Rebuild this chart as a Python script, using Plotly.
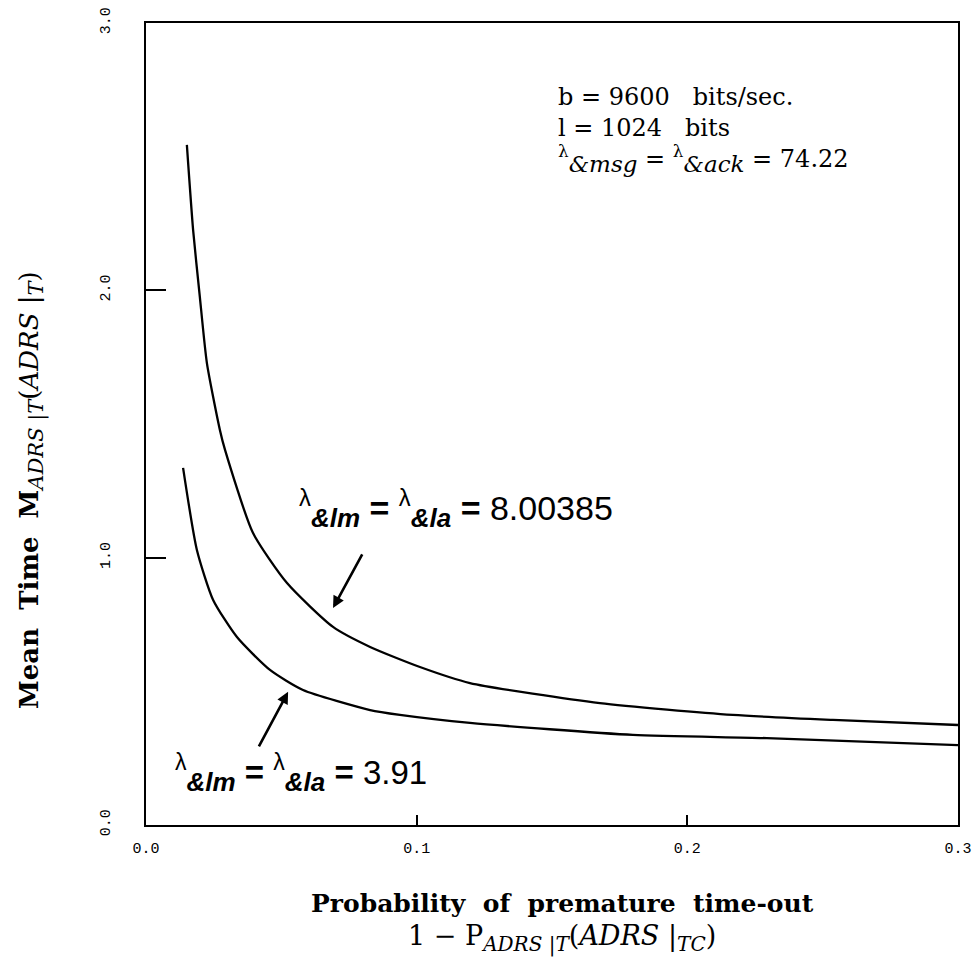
import plotly.graph_objects as go

# Data
x_upper = [0.0151, 0.0174, 0.0199, 0.0225, 0.0273, 0.0292, 0.0395, 0.0521, 0.0691, 0.0828, 0.1012, 0.1197, 0.1677, 0.2168, 0.2538, 0.3000]
y_upper = [2.544, 2.226, 1.975, 1.728, 1.478, 1.403, 1.093, 0.905, 0.741, 0.666, 0.591, 0.531, 0.456, 0.412, 0.393, 0.374]

x_lower = [0.0137, 0.0188, 0.0248, 0.0336, 0.0458, 0.0580, 0.0828, 0.0938, 0.1197, 0.1799, 0.2294, 0.3000]
y_lower = [1.336, 1.029, 0.842, 0.703, 0.580, 0.505, 0.430, 0.412, 0.382, 0.337, 0.325, 0.299]

x_ticks = [0.0, 0.1, 0.2, 0.3]
x_tick_labels = ["0.0", "0.1", "0.2", "0.3"]
y_ticks = [0.0, 1.0, 2.0, 3.0]
y_tick_labels = ["0.0", "1.0", "2.0", "3.0"]

line_style = dict(color="black", width=2.3, shape="spline", smoothing=0.6)

fig = go.Figure()
fig.add_trace(go.Scatter(x=x_upper, y=y_upper, mode="lines", line=line_style, showlegend=False, hoverinfo="skip"))
fig.add_trace(go.Scatter(x=x_lower, y=y_lower, mode="lines", line=line_style, showlegend=False, hoverinfo="skip"))

mono = dict(family="Liberation Mono, DejaVu Sans Mono, monospace", size=15, color="black")
serif = "DejaVu Serif, Liberation Serif, serif"
sans = "Liberation Sans, Arial, sans-serif"
NB = "&nbsp;"

fig.update_layout(
    width=972, height=966,
    margin=dict(l=146, r=14, t=23, b=141),
    paper_bgcolor="white", plot_bgcolor="white",
    xaxis=dict(range=[0, 0.3], tickvals=x_ticks, ticktext=x_tick_labels,
               ticks="inside", ticklen=10, tickwidth=1.5, tickcolor="black",
               showline=True, linecolor="black", linewidth=2, mirror=True,
               showgrid=False, zeroline=False, tickfont=mono, ticklabelstandoff=8,
               automargin=False),
    yaxis=dict(range=[0, 3], tickvals=y_ticks, ticktext=y_tick_labels,
               ticks="inside", ticklen=20, tickwidth=1.5, tickcolor="black",
               showline=True, linecolor="black", linewidth=2, mirror=True,
               showgrid=False, zeroline=False, tickfont=mono, tickangle=-90,
               ticklabelstandoff=28, automargin=False),
)


def px(xp):
    return (xp - 146) / 812


def py(yp):
    return (825 - yp) / 802


def sub(t, size, bold=False):
    inner = "<i>" + t + "</i>"
    if bold:
        inner = "<b>" + inner + "</b>"
    return '<sub><span style="font-size:%dpx">%s</span></sub>' % (size, inner)


title1 = "<b>Probability" + NB * 2 + "of" + NB * 2 + "premature" + NB * 2 + "time-out</b>"
title2 = "1 − P" + sub("ADRS |T", 20) + "(<i>ADRS</i> |" + sub("TC", 20) + ")"
ytitle = ("<b>Mean" + NB * 2 + "Time" + NB * 2 + "M</b>" + sub("ADRS |T", 21)
          + "(<i>ADRS</i> |" + sub("T", 21) + ")")

block = ("b = 9600" + NB * 3 + "bits/sec.<br>"
         "l = 1024" + NB * 3 + "bits<br>"
         "<sup>λ</sup>" + sub("&amp;msg", 23) + NB + "=" + NB + "<sup>λ</sup>" + sub("&amp;ack", 23)
         + NB + "=" + NB + "74.22")

EQ = NB + "<b>=</b>" + NB


def lam_lbl(val):
    return ("<sup>λ</sup>" + sub("&amp;lm", 26, True) + EQ + "<sup>λ</sup>"
            + sub("&amp;la", 26, True) + EQ + val)


annotations = [
    # axis titles
    dict(xref="paper", yref="paper", x=px(562), y=py(903), xanchor="center", yanchor="middle",
         text=title1, showarrow=False, font=dict(family=serif, size=25, color="black")),
    dict(xref="paper", yref="paper", x=px(562), y=py(938), xanchor="center", yanchor="middle",
         text=title2, showarrow=False, font=dict(family=serif, size=27, color="black")),
    dict(xref="paper", yref="paper", x=px(31), y=py(490), xanchor="center", yanchor="middle",
         textangle=-90, text=ytitle, showarrow=False,
         font=dict(family=serif, size=26, color="black")),
    # parameter block
    dict(xref="paper", yref="paper", x=px(556), y=py(81), xanchor="left", yanchor="top",
         align="left", showarrow=False, text=block,
         font=dict(family=serif, size=24, color="black")),
    # curve labels
    dict(xref="paper", yref="paper", x=px(297), y=py(508), xanchor="left", yanchor="middle",
         showarrow=False, text=lam_lbl("8.00385"),
         font=dict(family=sans, size=34, color="black")),
    dict(xref="paper", yref="paper", x=px(173), y=py(773), xanchor="left", yanchor="middle",
         showarrow=False, text=lam_lbl("3.91"),
         font=dict(family=sans, size=33, color="black")),
    # arrows
    dict(x=0.0691, y=0.812, xref="x", yref="y", text="", showarrow=True,
         ax=30, ay=-55, arrowhead=2, arrowsize=0.9, arrowwidth=2.6, arrowcolor="black"),
    dict(x=0.0525, y=0.498, xref="x", yref="y", text="", showarrow=True,
         ax=-30, ay=56, arrowhead=2, arrowsize=0.9, arrowwidth=2.6, arrowcolor="black"),
]
fig.update_layout(annotations=annotations)

fig.write_html("out.html")
